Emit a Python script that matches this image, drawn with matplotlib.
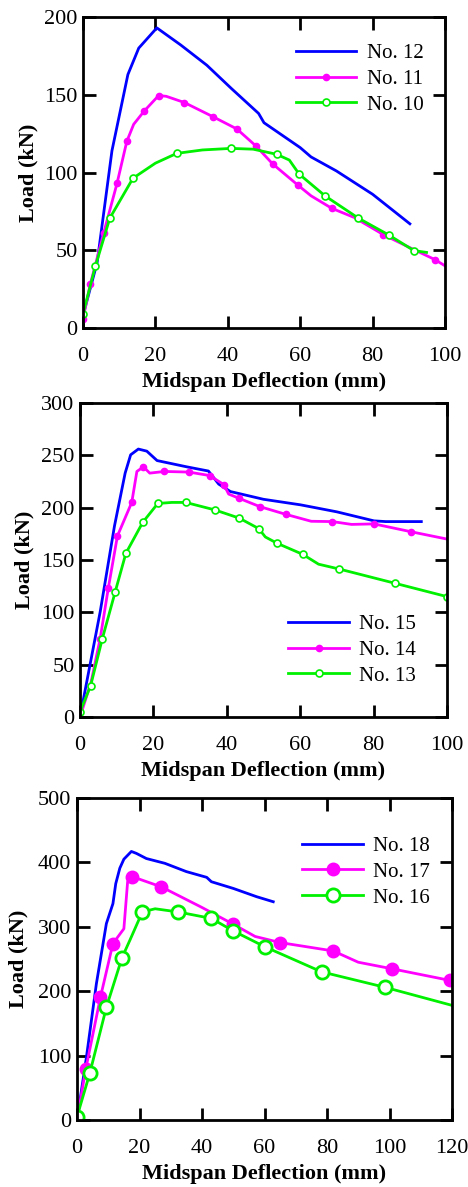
import numpy as np
import matplotlib
matplotlib.use('Agg')
import matplotlib.pyplot as plt
from matplotlib.legend_handler import HandlerLine2D

plt.rcParams['font.family'] = ['Liberation Serif', 'DejaVu Serif']

# ---- panel 1: No. 10 - 12 ----
x12 = [0, 3.9, 8, 12.4, 15.4, 20.4, 27, 34.2, 41, 48.5, 50, 55, 60, 63, 70, 80, 90.3]
y12 = [8, 42, 114, 163, 180, 193, 182, 169, 154, 138, 132, 124, 116, 110, 101, 86, 67]

x11 = [0, 2, 5.7, 9.4, 12.1, 14, 16.9, 20.9, 23, 28, 35.8, 42.5, 47.8, 52.4, 59.3, 63, 68.7, 75, 83, 90, 97.2, 100]
y11 = [6, 28, 61, 93, 120, 131, 139.5, 149.5, 149, 145, 136, 128, 117, 105.5, 92, 85, 77, 71, 60, 52, 44, 40]
m11 = [0, 1, 2, 3, 4, 6, 7, 9, 10, 11, 12, 13, 14, 16, 18, 20]

x10 = [0, 3.4, 7.4, 13.8, 20, 25.9, 33, 40.9, 47, 53.5, 57, 59.7, 66.9, 76.1, 84.4, 91.4, 94.9]
y10 = [9, 39.6, 70.6, 96.3, 106, 112.3, 114.5, 115.5, 115, 111.7, 108, 99, 84.9, 70.6, 59.9, 49.8, 48.6]
m10 = [0, 1, 2, 3, 5, 7, 9, 11, 12, 13, 14, 15]

# ---- panel 2: No. 13 - 15 ----
x15 = [0, 5.5, 9.4, 12.3, 13.8, 15.9, 18.2, 21, 29.1, 35, 37.8, 41, 50, 60.1, 70, 80.1, 83.3, 93]
y15 = [0, 100.5, 182.6, 233, 250.5, 256, 254, 245, 239, 235, 222.5, 215.4, 208, 202.7, 196, 187.4, 186.7, 186.7]

x14 = [0, 3, 5.5, 7.7, 10.2, 14.1, 15.5, 17.3, 19, 23, 29.7, 35.3, 39.2, 40.5, 43.3, 49, 56, 63, 68.8, 74, 80.1, 90.2, 100]
y14 = [0, 33, 75, 122.9, 173, 205, 234.6, 239, 233, 234.6, 234, 230.7, 222, 213, 209, 201, 193.7, 187, 186.7, 184, 184.5, 177, 170]
m14 = [2, 3, 4, 5, 7, 9, 10, 11, 12, 14, 15, 16, 18, 20, 21]

x13 = [0, 2.9, 6.1, 9.6, 12.5, 17.1, 21.2, 25, 28.8, 36.7, 43.4, 48.7, 50.5, 53.7, 60.7, 65, 70.6, 85.9, 100]
y13 = [4.8, 30, 75, 119.7, 156.4, 186, 204, 205, 205, 197.9, 190, 180, 172, 166, 155.4, 146, 141.4, 127.7, 115]
m13 = [0, 1, 2, 3, 4, 5, 6, 8, 9, 10, 11, 13, 14, 16, 17, 18]

# ---- panel 3: No. 16 - 18 ----
x18 = [0, 3, 6.2, 9.4, 11.5, 12.4, 13.7, 15, 17.4, 19, 22.2, 28.1, 35, 41.5, 43, 50, 57.5, 62.8]
y18 = [0, 97, 211.5, 305, 336, 367, 391, 405, 417, 414, 406, 398.6, 385.7, 376.8, 370, 359.6, 346.7, 338.9]

x17 = [0, 2.8, 7.5, 11.5, 15, 16.2, 17.6, 27, 40, 50, 57, 65, 82, 90, 100.7, 119.4]
y17 = [0, 79, 190.7, 274, 297, 370, 378, 362, 330, 304, 285, 275.5, 262.5, 245, 234.9, 216.7]
m17 = [1, 2, 3, 6, 7, 9, 11, 12, 14, 15]

x16 = [0, 4.1, 9.4, 14.4, 17, 20.9, 25, 32.4, 43, 50, 60.1, 78.3, 98.6, 120]
y16 = [5, 72.7, 175, 252, 280, 323, 328, 323, 313, 293.6, 269, 230, 206, 178]
m16 = [0, 1, 2, 3, 5, 7, 8, 9, 10, 11, 12]

blue = '#0000ff'
mag = '#ff00ff'
green = '#00f000'

fig = plt.figure(figsize=(4.68, 11.87), dpi=100)
W, H = 468.0, 1187.0


class InsetMarkers(HandlerLine2D):
    # full-length legend line, markers set inside it
    def get_xdata(self, legend, xdescent, ydescent, width, height, fontsize):
        xd = np.array([-xdescent, -xdescent + width])
        xm = -xdescent + width * np.array([0.22, 0.72])
        return xd, xm


def mkax(l, t, r, b):
    return fig.add_axes([l / W, 1 - b / H, (r - l) / W, (b - t) / H])


def style(ax, xmax, ymax, xstep, ystep, ylpad):
    ax.set_xlim(0, xmax)
    ax.set_ylim(0, ymax)
    ax.set_xticks(np.arange(0, xmax + 1, xstep))
    ax.set_yticks(np.arange(0, ymax + 1, ystep))
    ax.tick_params(direction='in', length=9, width=2, top=True, right=True,
                   labelsize=16)
    ax.tick_params(axis='x', pad=14)
    ax.tick_params(axis='y', pad=4)
    for s in ax.spines.values():
        s.set_linewidth(2)
    ax.set_xlabel('Midspan Deflection (mm)', fontsize=16, fontweight='bold', labelpad=4)
    ax.set_ylabel('Load (kN)', fontsize=16, fontweight='bold', labelpad=ylpad)


def leg(ax, loc, anchor):
    ax.legend(loc=loc, bbox_to_anchor=anchor, frameon=False, fontsize=15,
              handlelength=2.9, handletextpad=0.5, labelspacing=0.3,
              borderaxespad=0.2, handler_map={plt.Line2D: InsetMarkers()})


# panel 1
ax1 = mkax(83, 17, 445, 328)
ax1.plot(x12, y12, color=blue, lw=2, label='No. 12')
ax1.plot(x11, y11, color=mag, lw=2, marker='o', ms=4.5, markevery=m11, label='No. 11')
ax1.plot(x10, y10, color=green, lw=2, marker='o', ms=5, mfc='white', mec=green,
         mew=1.2, markevery=m10, label='No. 10')
style(ax1, 100, 200, 20, 50, 4)
leg(ax1, 'upper right', (0.975, 0.955))

# panel 2
ax2 = mkax(80, 403, 447, 717)
ax2.plot(x15, y15, color=blue, lw=2, label='No. 15')
ax2.plot(x14, y14, color=mag, lw=2, marker='o', ms=4.5, markevery=m14, label='No. 14')
ax2.plot(x13, y13, color=green, lw=2, marker='o', ms=5, mfc='white', mec=green,
         mew=1.2, markevery=m13, label='No. 13')
style(ax2, 100, 300, 20, 50, 5)
leg(ax2, 'lower right', (0.95, 0.06))

# panel 3
ax3 = mkax(77, 798, 452, 1120)
ax3.plot(x18, y18, color=blue, lw=2, label='No. 18')
ax3.plot(x17, y17, color=mag, lw=2, marker='o', ms=9, markevery=m17, label='No. 17')
ax3.plot(x16, y16, color=green, lw=2, marker='o', ms=9.5, mfc='white', mec=green,
         mew=2, markevery=m16, label='No. 16')
style(ax3, 120, 500, 20, 100, 7)
leg(ax3, 'upper right', (0.975, 0.92))

fig.savefig('out.png', dpi=100)
